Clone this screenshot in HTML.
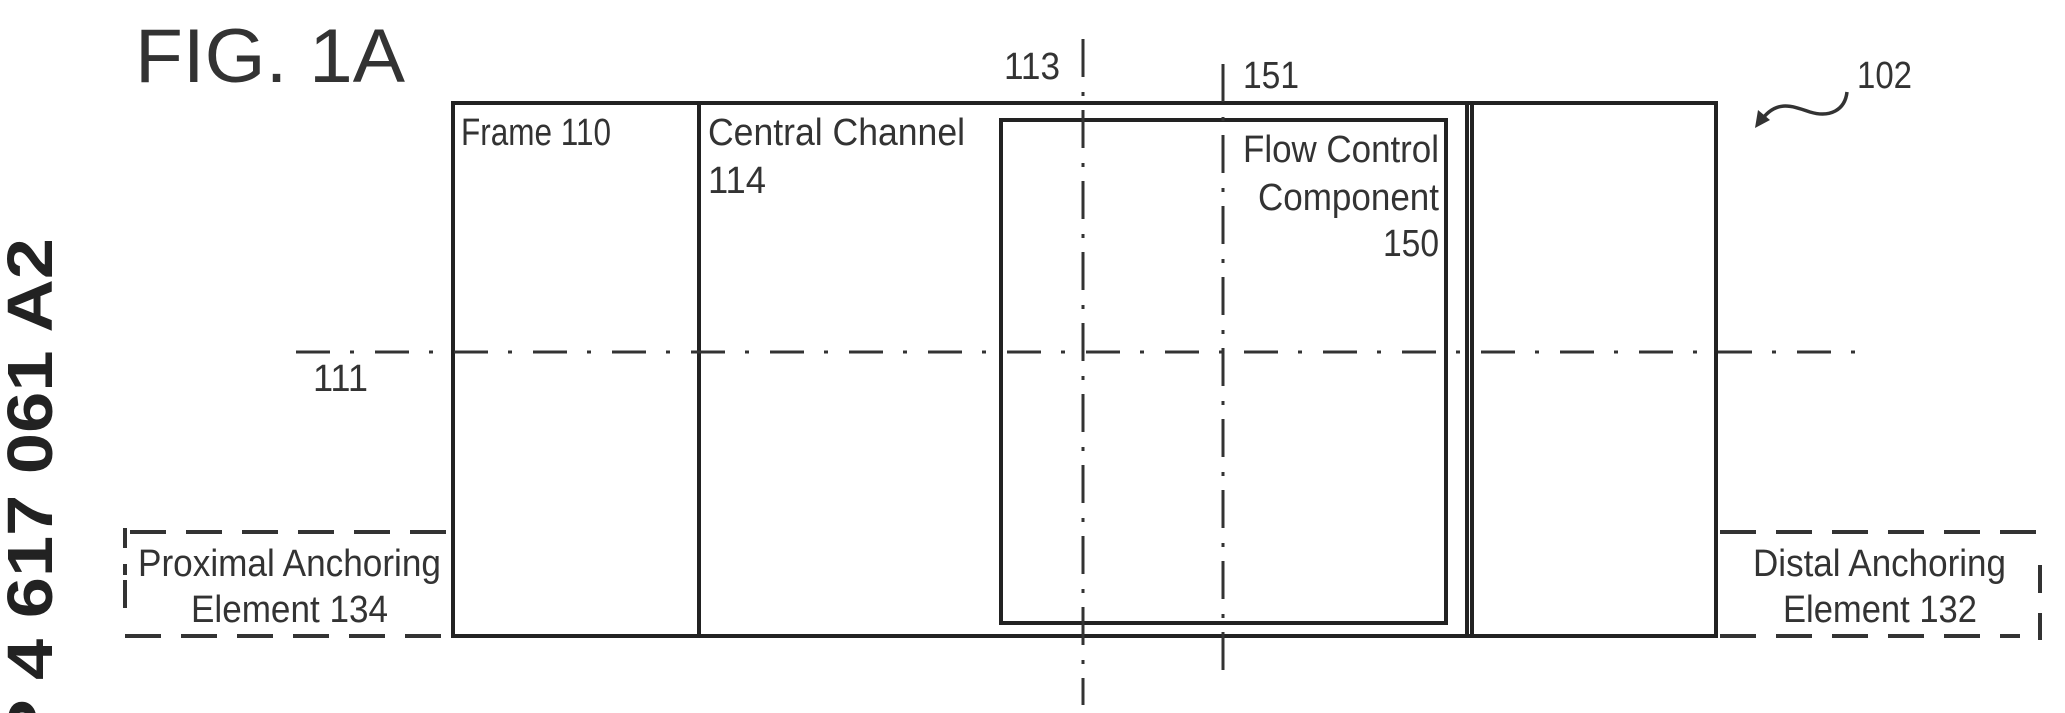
<!DOCTYPE html>
<html><head><meta charset="utf-8"><style>
html,body{margin:0;padding:0;background:#fff;width:2065px;height:713px;overflow:hidden;}
svg{display:block;}
text{font-family:"Liberation Sans",Arial,sans-serif;fill:#333;}
</style></head><body>
<svg width="2065" height="713" viewBox="0 0 2065 713" xmlns="http://www.w3.org/2000/svg" overflow="hidden">
<text x="135" y="82" font-size="76" textLength="270" lengthAdjust="spacingAndGlyphs">FIG. 1A</text>
<text transform="translate(52,238) rotate(-90)" text-anchor="end" font-size="64" font-weight="bold" style="fill:#222" x="0" y="0" textLength="560" lengthAdjust="spacingAndGlyphs">EP 4 617 061 A2</text>

<g stroke="#222" stroke-width="4" fill="none">
<rect x="453" y="103" width="1263" height="533"/>
<line x1="699" y1="103" x2="699" y2="636"/>
<line x1="1467" y1="103" x2="1467" y2="636"/>
<line x1="1472" y1="103" x2="1472" y2="636"/>
<rect x="1001" y="120" width="445" height="503"/>
</g>

<g stroke="#333" stroke-width="4" fill="none" stroke-dasharray="36 20">
<line x1="130" y1="532" x2="453" y2="532"/>
<line x1="125" y1="636" x2="453" y2="636"/>
<line x1="125" y1="528" x2="125" y2="575" stroke-dasharray="20 16"/>
<line x1="125" y1="580" x2="125" y2="608" stroke-dasharray="none"/>
<line x1="1720" y1="532" x2="2050" y2="532"/>
<line x1="1720" y1="636" x2="2020" y2="636"/>
<line x1="2040" y1="565" x2="2040" y2="640" stroke-dasharray="28 20"/>
</g>

<g stroke="#333" stroke-width="3" fill="none">
<line x1="296" y1="352" x2="1865" y2="352" stroke-dasharray="34 20 4 21"/>
<line x1="1083" y1="39" x2="1083" y2="705" stroke-dasharray="38 15 4 14"/>
<line x1="1223" y1="64" x2="1223" y2="675" stroke-dasharray="38 15 4 14"/>
</g>

<path d="M1847,92 C1845,110 1830,118 1810,112 C1790,105 1775,100 1760,122" stroke="#333" stroke-width="3.5" fill="none"/>
<polygon points="1755,128 1758,110 1770,120" fill="#333"/>

<g font-size="38">
<text x="461" y="145" textLength="150" lengthAdjust="spacingAndGlyphs">Frame 110</text>
<text x="708" y="145" textLength="257" lengthAdjust="spacingAndGlyphs">Central Channel</text>
<text x="708" y="193" textLength="58" lengthAdjust="spacingAndGlyphs">114</text>
<text x="1439" y="162" text-anchor="end" textLength="196" lengthAdjust="spacingAndGlyphs">Flow Control</text>
<text x="1439" y="210" text-anchor="end" textLength="181" lengthAdjust="spacingAndGlyphs">Component</text>
<text x="1439" y="256" text-anchor="end" textLength="56" lengthAdjust="spacingAndGlyphs">150</text>
<text x="313" y="391" textLength="55" lengthAdjust="spacingAndGlyphs">111</text>
<text x="1004" y="79" textLength="56" lengthAdjust="spacingAndGlyphs">113</text>
<text x="1243" y="88" textLength="56" lengthAdjust="spacingAndGlyphs">151</text>
<text x="1857" y="88" textLength="55" lengthAdjust="spacingAndGlyphs">102</text>
<text x="138" y="576" textLength="303" lengthAdjust="spacingAndGlyphs">Proximal Anchoring</text>
<text x="191" y="622" textLength="197" lengthAdjust="spacingAndGlyphs">Element 134</text>
<text x="1753" y="576" textLength="253" lengthAdjust="spacingAndGlyphs">Distal Anchoring</text>
<text x="1783" y="622" textLength="194" lengthAdjust="spacingAndGlyphs">Element 132</text>
</g>
</svg>
</body></html>
